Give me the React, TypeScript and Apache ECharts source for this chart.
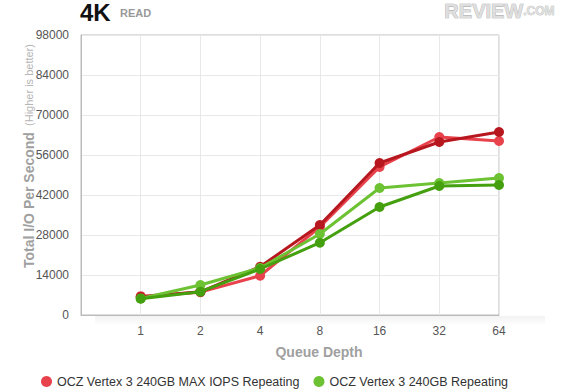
import React, { useEffect, useRef } from "react";
import * as echarts from "echarts";

const queueDepths = ["1", "2", "4", "8", "16", "32", "64"];
const yTicks = [0, 14000, 28000, 42000, 56000, 70000, 84000, 98000];
const seriesNames = [
  "OCZ Vertex 3 240GB MAX IOPS Repeating",
  "OCZ Vertex 3 240GB MAX IOPS",
  "OCZ Vertex 3 240GB Repeating",
  "OCZ Vertex 3 240GB",
];
const maxIopsRepeating = [6600, 8000, 13750, 30800, 51800, 62300, 60900];
const maxIops = [6300, 8100, 16900, 31500, 53200, 60550, 64050];
const repeating = [5800, 10500, 16450, 28350, 44450, 46200, 47950];
const standard = [5700, 8150, 16100, 25300, 37800, 45150, 45500];
const colors = ["#e8434c", "#b7181f", "#6cc233", "#44a00e"];

const FONT = "'Liberation Sans', Arial, Helvetica, sans-serif";

export default function App() {
  const ref = useRef<HTMLDivElement>(null);
  useEffect(() => {
    if (!ref.current) return;
    const chart = echarts.init(ref.current, null, { renderer: "svg" });
    const values = [maxIopsRepeating, maxIops, repeating, standard];
    const series = values.map((arr, si) => ({
      name: seriesNames[si],
      type: "line",
      data: arr.map((v, i) => [i + 1, v]),
      symbol: "circle",
      symbolSize: 10,
      lineStyle: { width: 3, color: colors[si] },
      itemStyle: { color: colors[si] },
      z: 3 + si,
    }));
    chart.setOption({
      animation: false,
      textStyle: { fontFamily: FONT },
      grid: {
        left: 81,
        right: 81,
        top: 35,
        bottom: 75,
        show: true,
        borderColor: "#bbbbbb",
        borderWidth: 1,
        backgroundColor: "#fff",
      },
      xAxis: {
        type: "value",
        min: 0,
        max: 7,
        interval: 1,
        axisLine: { show: true, lineStyle: { color: "#bbbbbb" } },
        axisTick: { show: false },
        splitLine: { show: true, lineStyle: { color: "#e8e8e8" } },
        axisLabel: {
          color: "#555",
          fontSize: 12,
          fontFamily: FONT,
          margin: 10,
          showMinLabel: true,
          showMaxLabel: true,
          formatter: (v: number) => (v >= 1 ? queueDepths[v - 1] ?? "" : ""),
        },
      },
      yAxis: {
        type: "value",
        min: yTicks[0],
        max: yTicks[yTicks.length - 1],
        interval: yTicks[1] - yTicks[0],
        axisLine: { show: true, lineStyle: { color: "#bbbbbb" } },
        axisTick: { show: false },
        splitLine: { show: true, lineStyle: { color: "#e8e8e8" } },
        axisLabel: {
          color: "#555",
          fontSize: 12,
          fontFamily: FONT,
          margin: 12,
          formatter: (v: number) => String(v),
        },
      },
      legend: {
        data: [seriesNames[0], seriesNames[2]],
        left: 36,
        top: 370,
        icon: "circle",
        itemWidth: 11,
        itemHeight: 11,
        itemGap: 14,
        textStyle: { color: "#333", fontSize: 12.5, fontFamily: FONT, fontWeight: 500 },
      },
      graphic: [
        {
          type: "rect",
          z: -1,
          shape: { x: 95, y: 316, width: 450, height: 10 },
          style: {
            fill: new echarts.graphic.LinearGradient(0, 0, 0, 1, [
              { offset: 0, color: "rgba(0,0,0,0.05)" },
              { offset: 1, color: "rgba(0,0,0,0)" },
            ]),
          },
        },
        {
          type: "text",
          left: 80,
          top: 0,
          style: {
            text: "4K",
            fontSize: 24,
            fontWeight: "bold",
            fill: "#111",
            fontFamily: FONT,
          },
        },
        {
          type: "text",
          left: 120,
          top: 7,
          style: {
            text: "READ",
            fontSize: 11,
            fontWeight: "bold",
            fill: "#999",
            fontFamily: FONT,
          },
        },
        {
          type: "text",
          left: 444,
          top: 1,
          style: {
            text: "{a|REVIEW}{b|.COM}",
            rich: {
              a: { fontSize: 20, fontWeight: "bold", fill: "#dedede", stroke: "#a5a5a5", lineWidth: 0.7, fontFamily: FONT },
              b: { fontSize: 12, fontWeight: "bold", fill: "#dedede", stroke: "#a5a5a5", lineWidth: 0.5, fontFamily: FONT },
            },
          },
        },
        {
          type: "text",
          x: 29,
          y: 156,
          rotation: Math.PI / 2,
          style: {
            text: "{a|Total I/O Per Second}{b|  (Higher is better)}",
            align: "center",
            verticalAlign: "middle",
            rich: {
              a: { fontSize: 14, fontWeight: "bold", fill: "#a0a0a0", fontFamily: FONT },
              b: { fontSize: 11, fill: "#b5b5b5", fontFamily: FONT },
            },
          },
        },
        {
          type: "text",
          x: 319,
          y: 352,
          style: {
            text: "Queue Depth",
            align: "center",
            verticalAlign: "middle",
            fontSize: 14,
            fontWeight: "bold",
            fill: "#a0a0a0",
            fontFamily: FONT,
          },
        },
      ],
      series,
    });
    return () => chart.dispose();
  }, []);
  return <div ref={ref} style={{ width: 580, height: 390, position: "absolute", left: 0, top: 0 }} />;
}
